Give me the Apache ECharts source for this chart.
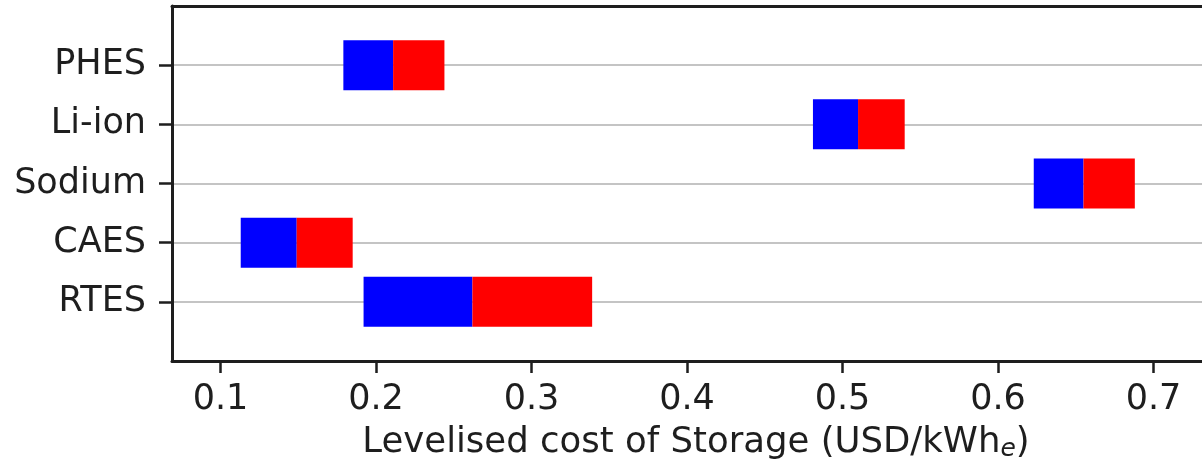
<!DOCTYPE html>
<html>
<head>
<meta charset="utf-8">
<script src="https://cdn.jsdelivr.net/npm/echarts@6/dist/echarts.min.js"></script>
<style>
  html, body { margin: 0; padding: 0; background: #ffffff; }
  #chart { width: 1202px; height: 472px; }
</style>
</head>
<body>
<div id="chart"></div>
<script>
// Storage technologies, top to bottom
const categories = ['PHES', 'Li-ion', 'Sodium', 'CAES', 'RTES'];
// Levelised cost range per technology (USD/kWh_e): low, central split, high
const costLow  = [0.179, 0.481, 0.623, 0.113, 0.192];
const costMid  = [0.211, 0.510, 0.655, 0.149, 0.262];
const costHigh = [0.244, 0.540, 0.688, 0.185, 0.339];
const xTicks = [0.1, 0.2, 0.3, 0.4, 0.5, 0.6, 0.7];

// Pad the category axis with an empty slot above and below so rows sit one step inside the frame
const yData = [''].concat(categories, ['']);
const pad = v => ['-'].concat(v, ['-']);

const baseData = pad(costLow);
const lowerSeg = pad(costMid.map((m, i) => m - costLow[i]));
const upperSeg = pad(costHigh.map((h, i) => h - costMid[i]));

const ink = '#1e1e1e';
const fontFamily = 'DejaVu Sans';
const shown = (i, v) => v !== '';
const xMin = 0.0688, xMax = 0.7312;

const chart = echarts.init(document.getElementById('chart'), null, { renderer: 'canvas' });
chart.setOption({
  animation: false,
  backgroundColor: '#ffffff',
  grid: { left: 172, top: 6, right: 0, bottom: 111, show: false },
  xAxis: [
    {
      type: 'value',
      min: xMin,
      max: xMax,
      name: '{t|Levelised cost of Storage (USD/kWh}{e|e}{t|)}',
      nameLocation: 'middle',
      nameGap: 62,
      nameTextStyle: {
        fontFamily, fontSize: 35.5, color: ink, padding: [0, 0, 0, 18],
        rich: {
          t: { fontFamily, fontSize: 35.5, color: ink },
          e: { fontFamily, fontSize: 25, fontStyle: 'italic', color: ink, padding: [14, 0, 0, 0] }
        }
      },
      axisLine: { show: true, onZero: false, lineStyle: { color: ink, width: 3 } },
      axisTick: { show: true, length: 12, lineStyle: { color: ink, width: 2.5 }, customValues: xTicks },
      axisLabel: {
        fontFamily, fontSize: 35, color: ink, margin: 21,
        customValues: xTicks,
        formatter: v => v.toFixed(1)
      },
      splitLine: { show: false }
    },
    {
      // top frame edge
      type: 'value',
      position: 'top',
      min: xMin,
      max: xMax,
      axisLine: { show: true, onZero: false, lineStyle: { color: ink, width: 3 } },
      axisTick: { show: false },
      axisLabel: { show: false },
      splitLine: { show: false }
    }
  ],
  yAxis: {
    type: 'category',
    data: yData,
    inverse: true,
    boundaryGap: false,
    axisLine: { show: true, lineStyle: { color: ink, width: 3 } },
    axisTick: { show: true, length: 13, interval: shown, lineStyle: { color: ink, width: 2.5 } },
    axisLabel: { fontFamily, fontSize: 35, color: ink, margin: 26, interval: 0 },
    splitLine: { show: true, interval: shown, lineStyle: { color: '#c4c4c4', width: 2 } }
  },
  series: [
    {
      type: 'bar', stack: 'cost', data: baseData, barWidth: 50,
      itemStyle: { color: 'transparent' }, silent: true
    },
    {
      type: 'bar', stack: 'cost', data: lowerSeg, barWidth: 50,
      itemStyle: { color: '#0000ff' }
    },
    {
      type: 'bar', stack: 'cost', data: upperSeg, barWidth: 50,
      itemStyle: { color: '#ff0000' }
    }
  ]
});
</script>
</body>
</html>
